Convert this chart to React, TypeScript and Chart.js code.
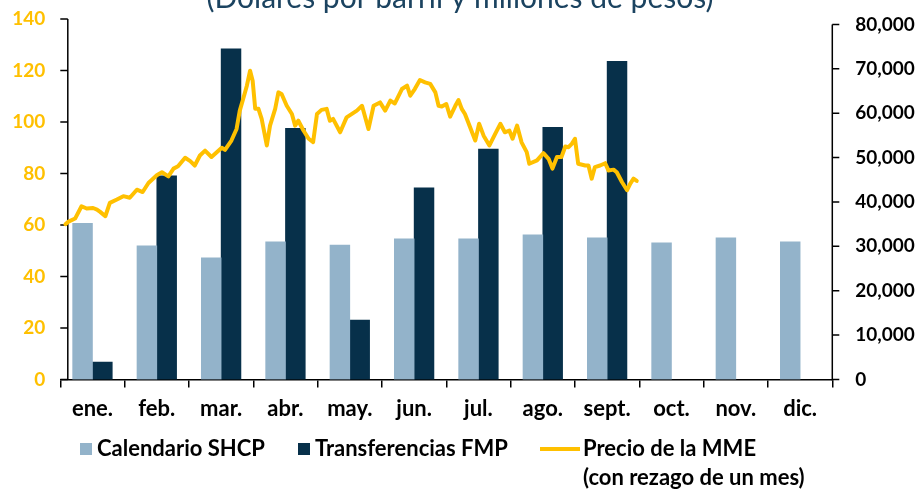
import React, { useEffect, useRef } from "react";
import { Chart, registerables } from "chart.js";

Chart.register(...registerables);

const TITLE = "(Dólares por barril y millones de pesos)";
const MONTHS = ["ene.", "feb.", "mar.", "abr.", "may.", "jun.", "jul.", "ago.", "sept.", "oct.", "nov.", "dic."];
const CALENDARIO_SHCP = [35200, 30100, 27400, 31000, 30300, 31700, 31700, 32600, 31900, 30800, 31900, 31000];
const TRANSFERENCIAS_FMP = [3900, 45900, 74500, 56600, 13400, 43200, 51900, 56800, 71700, null, null, null];

// Precio de la MME: position in months (0 = start of Jan) and price (USD/bbl)
const PRECIO_T = [
  0.08, 0.12, 0.23, 0.33, 0.41, 0.51, 0.57, 0.62, 0.70, 0.77, 0.88, 0.98, 1.08, 1.19, 1.28, 1.37, 1.50, 1.58, 1.68,
  1.76, 1.83, 1.94, 2.02, 2.09, 2.17, 2.25, 2.35, 2.51, 2.56, 2.66, 2.74, 2.79, 2.85, 2.90, 2.95, 2.99, 3.03, 3.08,
  3.13, 3.21, 3.26, 3.34, 3.39, 3.44, 3.52, 3.60, 3.65, 3.70, 3.78, 3.86, 3.93, 3.99, 4.06, 4.14, 4.19, 4.24, 4.35,
  4.45, 4.61, 4.69, 4.79, 4.87, 4.97, 5.05, 5.13, 5.20, 5.31, 5.39, 5.44, 5.51, 5.59, 5.67, 5.75, 5.83, 5.88, 5.93,
  6.00, 6.06, 6.14, 6.19, 6.24, 6.29, 6.34, 6.45, 6.51, 6.58, 6.67, 6.76, 6.84, 6.91, 6.98, 7.03, 7.10, 7.17, 7.25,
  7.29, 7.41, 7.51, 7.59, 7.65, 7.72, 7.79, 7.85, 7.90, 7.95, 8.00, 8.05, 8.16, 8.21, 8.26, 8.31, 8.39, 8.47, 8.52,
  8.60, 8.65, 8.73, 8.81, 8.86, 8.91, 8.96,
];
const PRECIO_MME = [
  60.3, 61.2, 62.5, 67.3, 66.4, 66.6, 66.0, 65.1, 63.4, 68.6, 69.9, 71.2, 70.6, 73.7, 72.8, 76.3, 79.3, 80.5, 78.9,
  81.9, 82.8, 86.1, 84.8, 83.1, 87.0, 88.9, 86.4, 90.0, 89.2, 92.8, 97.3, 104.4, 109.6, 114.1, 119.9, 116.0, 105.1, 105.1,
  101.2, 90.9, 98.6, 105.1, 111.5, 110.9, 106.3, 103.1, 98.6, 100.5, 96.7, 93.5, 92.2, 103.1, 104.7, 105.1, 100.5, 101.2, 96.0,
  101.8, 104.4, 106.3, 97.3, 106.3, 107.6, 104.4, 108.3, 107.2, 112.8, 114.1, 110.2, 112.8, 116.3, 115.4, 114.8, 111.5, 106.3, 106.0,
  107.0, 102.1, 106.3, 108.5, 105.1, 103.1, 99.9, 92.8, 99.3, 94.7, 90.9, 95.4, 99.3, 96.0, 96.7, 93.5, 98.6, 92.1, 88.3,
  83.8, 85.1, 87.9, 85.7, 81.9, 86.4, 86.4, 90.5, 90.2, 91.5, 93.5, 83.8, 83.1, 83.1, 78.0, 82.5, 83.1, 84.0, 81.2,
  81.5, 80.5, 76.7, 73.5, 76.1, 78.0, 77.1,
];
const LEFT_TICKS = [0, 20, 40, 60, 80, 100, 120, 140];
const RIGHT_TICKS = [0, 10000, 20000, 30000, 40000, 50000, 60000, 70000, 80000];
const LEGEND_LABELS = ["Calendario SHCP", "Transferencias FMP", "Precio de la MME", "(con rezago de un mes)"];

const LIGHT = "#93b3ca";
const DARK = "#07304a";
const GOLD = "#ffc000";
const FONT = "Lato";

const axesPlugin = {
  id: "customAxes",
  beforeDatasetsDraw(chart: any) {
    const ctx = chart.ctx;
    const y = chart.scales.y;
    const y2 = chart.scales.y2;
    const area = chart.chartArea;
    ctx.save();
    ctx.strokeStyle = "#000";
    ctx.lineWidth = 1.5;
    const lx = area.left + 7.5;
    ctx.beginPath();
    ctx.moveTo(lx, y.getPixelForValue(LEFT_TICKS[LEFT_TICKS.length - 1]));
    ctx.lineTo(lx, y.getPixelForValue(0));
    for (const t of LEFT_TICKS) {
      const py = y.getPixelForValue(t);
      ctx.moveTo(area.left, py);
      ctx.lineTo(lx, py);
    }
    const rx = area.right;
    ctx.moveTo(rx, y2.getPixelForValue(RIGHT_TICKS[RIGHT_TICKS.length - 1]));
    ctx.lineTo(rx, y2.getPixelForValue(0) + 1);
    for (const t of RIGHT_TICKS) {
      const py = y2.getPixelForValue(t);
      ctx.moveTo(rx, py);
      ctx.lineTo(rx + 7, py);
    }
    ctx.stroke();
    ctx.restore();
  },
};

const textPlugin = {
  id: "titleLegend",
  afterDraw(chart: any) {
    const ctx = chart.ctx;
    ctx.save();
    // title (partly cut off at the top, as in the reference)
    ctx.fillStyle = "#1b4360";
    ctx.font = `30px ${FONT}`;
    ctx.textAlign = "center";
    ctx.textBaseline = "alphabetic";
    ctx.fillText(TITLE, 460, 8);

    // legend
    ctx.textAlign = "left";
    ctx.textBaseline = "middle";
    ctx.font = `bold 22px ${FONT}`;
    const ly = 449;
    ctx.fillStyle = LIGHT;
    ctx.fillRect(80, ly - 6, 12, 12);
    ctx.fillStyle = "#000";
    ctx.fillText(LEGEND_LABELS[0], 97, ly);
    ctx.fillStyle = DARK;
    ctx.fillRect(298, ly - 6, 12, 12);
    ctx.fillStyle = "#000";
    ctx.fillText(LEGEND_LABELS[1], 315, ly);
    ctx.strokeStyle = GOLD;
    ctx.lineWidth = 4;
    ctx.beginPath();
    ctx.moveTo(540, ly);
    ctx.lineTo(580, ly);
    ctx.stroke();
    ctx.fillStyle = "#000";
    ctx.fillText(LEGEND_LABELS[2], 583, ly);
    ctx.fillText(LEGEND_LABELS[3], 583, ly + 29);
    ctx.restore();
  },
};

export default function App() {
  const ref = useRef<HTMLCanvasElement | null>(null);

  useEffect(() => {
    if (!ref.current) return;
    const lineData = PRECIO_T.map((t, i) => ({ x: t, y: PRECIO_MME[i] }));
    const chart = new Chart(ref.current, {
      type: "bar",
      data: {
        labels: MONTHS,
        datasets: [
          {
            type: "line",
            label: "Precio de la MME",
            data: lineData as any,
            xAxisID: "xl",
            yAxisID: "y",
            borderColor: GOLD,
            borderWidth: 4,
            pointRadius: 0,
            tension: 0,
            borderJoinStyle: "round",
            borderCapStyle: "round",
            order: 0,
          } as any,
          {
            type: "bar",
            label: "Calendario SHCP",
            data: CALENDARIO_SHCP,
            backgroundColor: LIGHT,
            xAxisID: "x",
            yAxisID: "y2",
            barThickness: 19.8,
            order: 1,
          },
          {
            type: "bar",
            label: "Transferencias FMP",
            data: TRANSFERENCIAS_FMP as any,
            backgroundColor: DARK,
            xAxisID: "x",
            yAxisID: "y2",
            barThickness: 19.8,
            order: 1,
          },
        ],
      },
      options: {
        responsive: false,
        animation: false,
        devicePixelRatio: 1,
        layout: { padding: { top: 19, left: 0, right: 0, bottom: 0 } },
        plugins: {
          legend: { display: false },
          title: { display: false },
          tooltip: { enabled: false },
        },
        scales: {
          x: {
            type: "category",
            position: "bottom",
            offset: true,
            grid: {
              offset: true,
              drawOnChartArea: false,
              drawTicks: true,
              tickLength: 8,
              color: "#000",
              lineWidth: 1.5,
            },
            border: { display: true, color: "#000", width: 1.5 },
            ticks: {
              color: "#000",
              font: { family: FONT, size: 22, weight: "bold" },
              padding: 8,
              maxRotation: 0,
              autoSkip: false,
            },
            afterFit(scale: any) {
              scale.height = 110.5;
              scale.paddingLeft = 0;
              scale.paddingRight = 0;
            },
          },
          xl: {
            type: "linear",
            display: false,
            offset: false,
            min: 0,
            max: 12,
          },
          y: {
            type: "linear",
            position: "left",
            min: 0,
            max: 140,
            grid: { display: false, drawTicks: false },
            border: { display: false },
            ticks: {
              stepSize: 20,
              color: GOLD,
              padding: 15,
              font: { family: FONT, size: 19, weight: "bold", lineHeight: 1 },
            },
            afterBuildTicks(scale: any) {
              scale.ticks = LEFT_TICKS.map((v) => ({ value: v }));
            },
            afterFit(scale: any) {
              scale.width = 60.3;
              scale.paddingTop = 0;
              scale.paddingBottom = 0;
            },
          },
          y2: {
            type: "linear",
            position: "right",
            min: 0,
            max: 81239,
            grid: { display: false, drawTicks: false },
            border: { display: false },
            ticks: {
              color: "#000",
              padding: 23,
              font: { family: FONT, size: 19, weight: "bold", lineHeight: 1 },
              callback: (v: any) => Number(v).toLocaleString("en-US"),
            },
            afterBuildTicks(scale: any) {
              scale.ticks = RIGHT_TICKS.map((v) => ({ value: v }));
            },
            afterFit(scale: any) {
              scale.width = 88.7;
              scale.paddingTop = 0;
              scale.paddingBottom = 0;
            },
          },
        },
      },
      plugins: [axesPlugin, textPlugin],
    });
    return () => chart.destroy();
  }, []);

  return (
    <div style={{ position: "fixed", left: 0, top: 0, width: 921, height: 490, background: "#fff" }}>
      <canvas ref={ref} width={921} height={490} />
    </div>
  );
}
